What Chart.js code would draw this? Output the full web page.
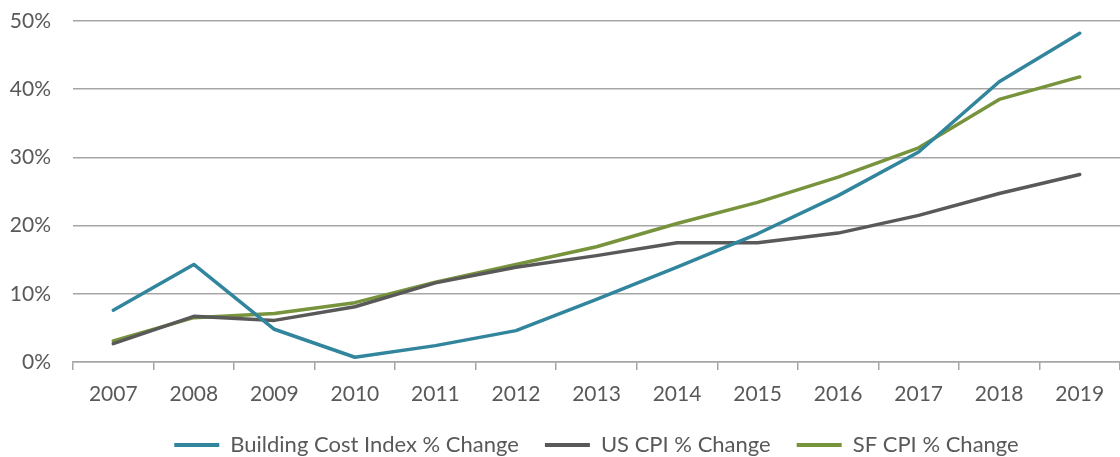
<!DOCTYPE html>
<html>
<head>
<meta charset="utf-8">
<script src="https://cdn.jsdelivr.net/npm/chart.js@4/dist/chart.umd.min.js"></script>
<style>
    html, body { margin: 0; padding: 0; background: #fff; }
    #wrap { width: 1120px; height: 457px; position: relative; }
</style>
</head>
<body>
<div id="wrap"><canvas id="costChart"></canvas></div>
<script>
// ===================================
// Chart data
// ===================================
const years = ['2007', '2008', '2009', '2010', '2011', '2012', '2013', '2014', '2015', '2016', '2017', '2018', '2019'];
const buildingCost = [7.6, 14.3, 4.8, 0.7, 2.4, 4.6, 9.2, 13.9, 18.8, 24.4, 30.8, 41.1, 48.2];
const usCpi = [2.7, 6.7, 6.1, 8.1, 11.6, 13.9, 15.6, 17.5, 17.5, 18.9, 21.5, 24.7, 27.5];
const sfCpi = [3.1, 6.5, 7.1, 8.7, 11.7, 14.3, 16.9, 20.3, 23.4, 27.1, 31.4, 38.5, 41.8];
const yTicks = [0, 10, 20, 30, 40, 50];

const textColor = '#595959';
const gridColor = '#a6a6a6';
const fontFamily = 'Lato, "Open Sans", sans-serif';

const ctx = document.getElementById('costChart').getContext('2d');
const costChart = new Chart(ctx, {
    type: 'line',
    data: {
        labels: years,
        datasets: [
            {
                label: 'Building Cost Index % Change',
                data: buildingCost,
                borderColor: '#31859c',
                backgroundColor: '#31859c'
            },
            {
                label: 'US CPI % Change',
                data: usCpi,
                borderColor: '#595959',
                backgroundColor: '#595959'
            },
            {
                label: 'SF CPI % Change',
                data: sfCpi,
                borderColor: '#77933c',
                backgroundColor: '#77933c'
            }
        ]
    },
    options: {
        responsive: true,
        maintainAspectRatio: false,
        animation: false,
        layout: {
            padding: { top: 21, right: 0, bottom: -9, left: 0 }
        },
        elements: {
            line: { borderWidth: 3.5, tension: 0, borderCapStyle: 'round', borderJoinStyle: 'round' },
            point: { radius: 0 }
        },
        plugins: {
            legend: {
                display: true,
                position: 'bottom',
                fullSize: false,
                labels: {
                    color: textColor,
                    font: { family: fontFamily, size: 22 },
                    boxWidth: 45,
                    boxHeight: 4,
                    padding: 26,
                    generateLabels: function(chart) {
                        const items = Chart.defaults.plugins.legend.labels.generateLabels(chart);
                        items.forEach(item => { item.lineWidth = 0; });
                        return items;
                    }
                }
            },
            tooltip: { enabled: false }
        },
        scales: {
            x: {
                offset: true,
                afterFit: function(scale) {
                    scale.height = 46;
                },
                grid: {
                    display: true,
                    offset: true,
                    drawOnChartArea: false,
                    drawTicks: true,
                    tickLength: 8,
                    color: gridColor,
                    lineWidth: 1.5
                },
                border: { display: true, color: gridColor, width: 1.5 },
                ticks: {
                    color: textColor,
                    font: { family: fontFamily, size: 21 },
                    padding: 12,
                    maxRotation: 0
                }
            },
            y: {
                min: 0,
                max: 50,
                afterBuildTicks: function(scale) {
                    scale.ticks = yTicks.map(v => ({ value: v }));
                },
                afterFit: function(scale) {
                    scale.width = 73;
                    scale.paddingTop = 0;
                    scale.paddingBottom = 0;
                },
                grid: {
                    color: gridColor,
                    lineWidth: 1.5,
                    drawTicks: false
                },
                border: { display: false },
                ticks: {
                    color: textColor,
                    font: { family: fontFamily, size: 21 },
                    padding: 22,
                    callback: function(value) {
                        return value + '%';
                    }
                }
            }
        }
    }
});
</script>
</body>
</html>
